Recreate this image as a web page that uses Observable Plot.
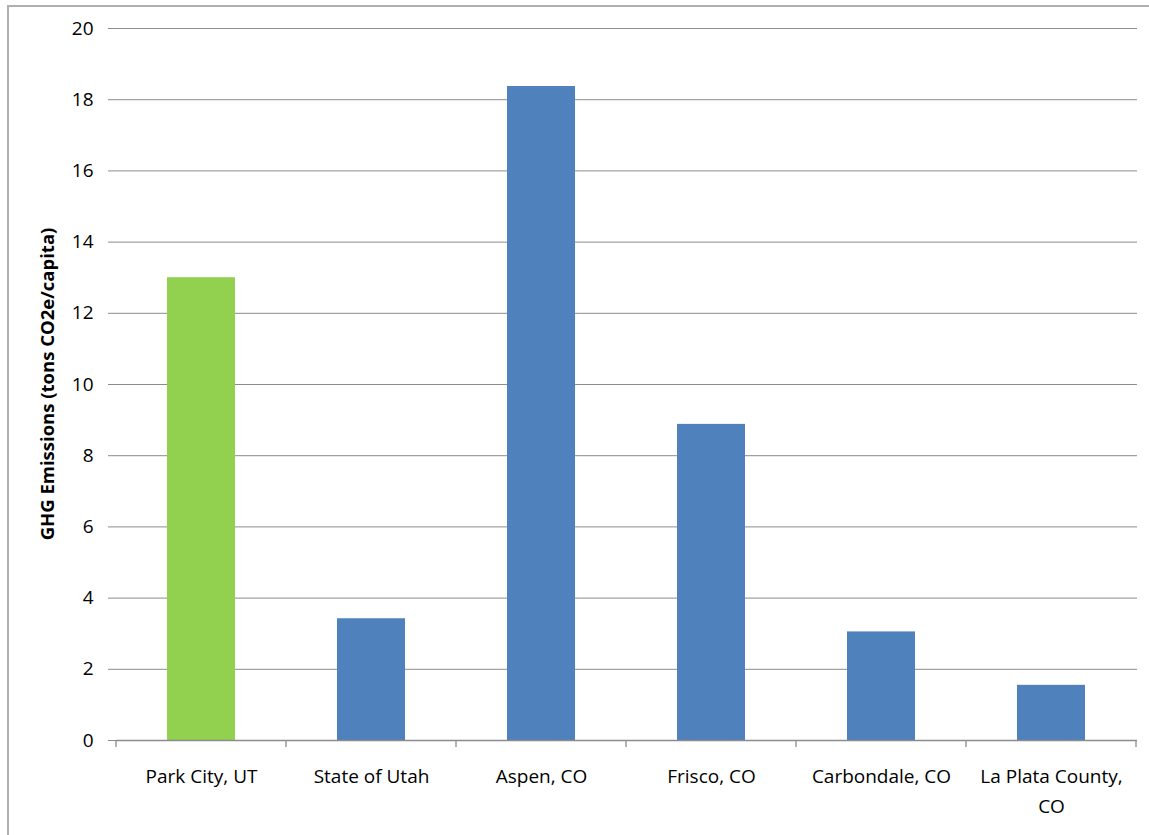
<!DOCTYPE html>
<html>
<head>
<meta charset="utf-8">
<script src="https://cdn.jsdelivr.net/npm/d3@7"></script>
<script src="https://cdn.jsdelivr.net/npm/@observablehq/plot@0.6"></script>
<style>
  html, body { margin: 0; padding: 0; background: #fff; }
  #frame { position: absolute; left: 7px; top: 5px; width: 1160px; height: 850px; border: 2px solid #b0b0b0; box-sizing: border-box; }
  #chart { position: absolute; left: 0; top: 0; }
</style>
</head>
<body>
<div id="frame"></div>
<div id="chart"></div>
<script>
const categories = ["Park City, UT", "State of Utah", "Aspen, CO", "Frisco, CO", "Carbondale, CO", "La Plata County, CO"];
const labels = ["Park City, UT", "State of Utah", "Aspen, CO", "Frisco, CO", "Carbondale, CO", "La Plata County,\nCO"];
const values = [13.0, 3.42, 18.37, 8.88, 3.05, 1.55];
const colors = ["#92D050", "#4F81BD", "#4F81BD", "#4F81BD", "#4F81BD", "#4F81BD"];
const yTicks = [0, 2, 4, 6, 8, 10, 12, 14, 16, 18, 20];
const yLabel = "GHG Emissions (tons CO2e/capita)";

const data = categories.map((c, i) => ({category: c, value: values[i], color: colors[i], label: labels[i]}));
const labelOf = new Map(categories.map((c, i) => [c, labels[i]]));
const FONT = "'Open Sans', Lato, sans-serif";

const chart = Plot.plot({
  width: 1149,
  height: 835,
  marginLeft: 116,
  marginRight: 12,
  marginTop: 28,
  marginBottom: 95,
  style: {fontFamily: FONT, fontSize: "19px", color: "#000", background: "transparent"},
  x: {domain: categories, paddingInner: 0.6, paddingOuter: 0.3, align: 0.5, label: null},
  y: {domain: [0, 20], label: null},
  marks: [
    Plot.ruleY(yTicks, {stroke: "#8c8c8c", strokeWidth: 1}),
    Plot.barY(data, {x: "category", y: "value", fill: "color"}),
    Plot.axisY(yTicks, {tickSize: 8, tickPadding: 15, stroke: "#8c8c8c", fontSize: 19, label: null}),
    Plot.axisX({tickSize: 0, tickPadding: 22, tickFormat: d => labelOf.get(d), fontSize: 19, label: null, lineHeight: 1.55}),
    Plot.ruleX([0], {stroke: "#8c8c8c", strokeWidth: 1.3, y1: 0, y2: 20}),
    Plot.ruleY([0], {stroke: "#8c8c8c", strokeWidth: 1.3})
  ]
});
document.getElementById("chart").appendChild(chart);

// category boundary ticks from the chart's own x scale
const xs = chart.scale("x");
const step = xs.step;
const bw = xs.bandwidth;
const yScale = chart.scale("y");
const y0 = yScale.apply(0);
const svg = d3.select(chart);
const bounds = categories.map(c => xs.apply(c) - (step - bw) / 2);
bounds.push(xs.apply(categories[categories.length - 1]) + bw + (step - bw) / 2);
svg.append("g").selectAll("line").data(bounds).join("line")
  .attr("x1", d => d).attr("x2", d => d)
  .attr("y1", y0).attr("y2", y0 + 7)
  .attr("stroke", "#8c8c8c").attr("stroke-width", 1.3);

// y-axis title
svg.append("text")
  .attr("transform", `translate(54,${(yScale.apply(0) + yScale.apply(20)) / 2}) rotate(-90)`)
  .attr("text-anchor", "middle")
  .attr("font-family", FONT)
  .attr("font-weight", "bold")
  .attr("font-size", 18.5)
  .text(yLabel);
</script>
</body>
</html>
